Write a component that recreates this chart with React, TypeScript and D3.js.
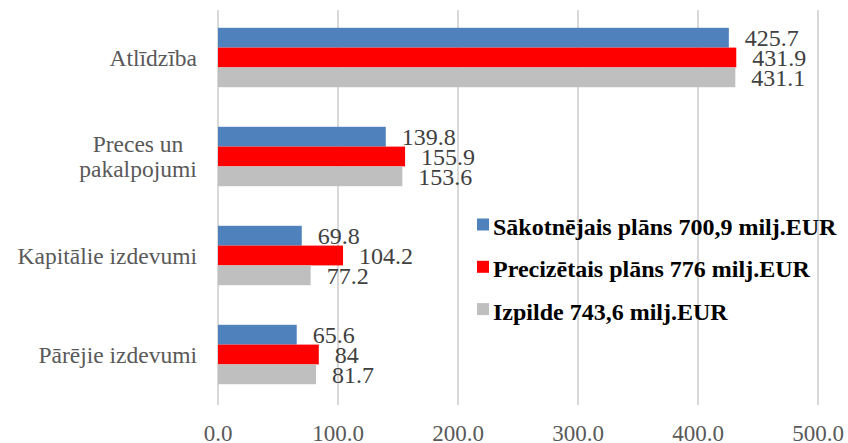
import React from 'react';
import * as d3 from 'd3';

const categories = ['Atlīdzība', 'Preces un pakalpojumi', 'Kapitālie izdevumi', 'Pārējie izdevumi'];
const categoryLines = [['Atlīdzība'], ['Preces un', 'pakalpojumi'], ['Kapitālie izdevumi'], ['Pārējie izdevumi']];
const seriesNames = [
  'Sākotnējais plāns 700,9 milj.EUR',
  'Precizētais plāns 776 milj.EUR',
  'Izpilde 743,6 milj.EUR',
];
const initialPlan = [425.7, 139.8, 69.8, 65.6];
const revisedPlan = [431.9, 155.9, 104.2, 84];
const execution = [431.1, 153.6, 77.2, 81.7];
const labelText = [
  ['425.7', '139.8', '69.8', '65.6'],
  ['431.9', '155.9', '104.2', '84'],
  ['431.1', '153.6', '77.2', '81.7'],
];
const xTicks = [0, 100, 200, 300, 400, 500];
const colors = ['#4F81BD', '#FF0000', '#BFBFBF'];

const W = 848;
const H = 443;
const FONT = 'Liberation Serif';

export default function App() {
  const series = [initialPlan, revisedPlan, execution];
  const x = d3.scaleLinear().domain([0, 500]).range([218, 818]);
  const y = d3.scaleBand().domain(categories).range([8, 404]).paddingInner(0.4).paddingOuter(0.2);
  const inner = d3.scaleBand().domain(['0', '1', '2']).range([0, y.bandwidth()]);

  return (
    <div style={{ fontFamily: FONT }}>
      <svg
        width={W}
        height={H}
        fontFamily={FONT}
        style={{ position: 'absolute', left: 0, top: 0, background: '#fff', fontFamily: FONT }}
      >
        {xTicks.map((t) => (
          <g key={t}>
            <line x1={x(t)} x2={x(t)} y1={10} y2={405} stroke="#D9D9D9" strokeWidth={2} />
            <text x={x(t)} y={441} textAnchor="middle" fontFamily={FONT} fontSize={23} fill="#595959">
              {d3.format('.1f')(t)}
            </text>
          </g>
        ))}
        {categories.map((c, ci) => (
          <g key={c}>
            {series.map((s, si) => {
              const by = (y(c) ?? 0) + (inner(String(si)) ?? 0);
              return (
                <g key={si}>
                  <rect x={x(0)} y={by} width={x(s[ci]) - x(0)} height={inner.bandwidth()} fill={colors[si]} />
                  <text
                    x={x(s[ci]) + 16}
                    y={by + inner.bandwidth() / 2 + 8.5}
                    fontFamily={FONT}
                    fontSize={24}
                    fill="#404040"
                  >
                    {labelText[si][ci]}
                  </text>
                </g>
              );
            })}
            {categoryLines[ci].map((ln, li) => {
              const cy = (y(c) ?? 0) + y.bandwidth() / 2;
              const n = categoryLines[ci].length;
              const ty = cy + 8 + (li - (n - 1) / 2) * 25;
              return (
                <text
                  key={li}
                  x={n > 1 ? 138 : 197}
                  y={ty}
                  textAnchor={n > 1 ? 'middle' : 'end'}
                  fontFamily={FONT}
                  fontSize={23.5}
                  fill="#595959"
                >
                  {ln}
                </text>
              );
            })}
          </g>
        ))}
        {seriesNames.map((n, i) => (
          <g key={n} transform={`translate(477, ${224.5 + i * 42.3})`}>
            <rect x={0} y={-6} width={12} height={12} fill={colors[i]} />
            <text x={16} y={10.5} fontFamily={FONT} fontSize={24} fontWeight="bold" fill="#000">
              {n}
            </text>
          </g>
        ))}
      </svg>
    </div>
  );
}
